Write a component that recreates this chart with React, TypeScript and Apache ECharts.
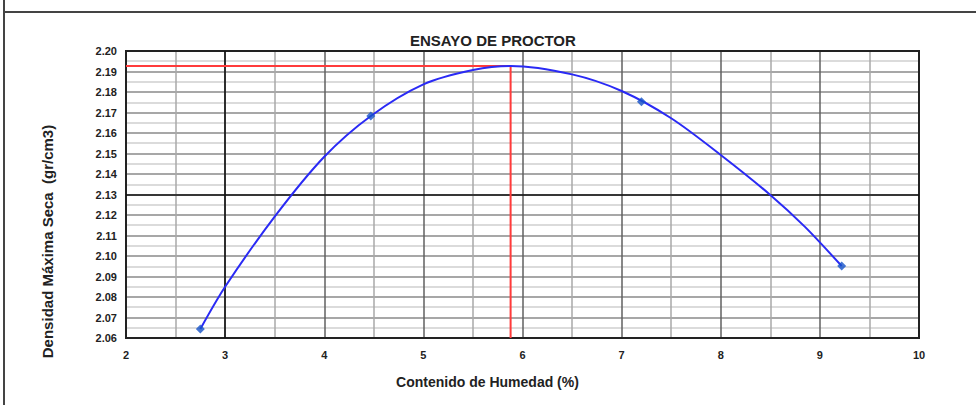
import React, { useEffect, useRef } from "react";
import * as echarts from "echarts";

const title = "ENSAYO DE PROCTOR";
const xAxisTitle = "Contenido de Humedad (%)";
const yAxisTitle = "Densidad Máxima Seca  (gr/cm3)";

// measured points (humidity %, dry density)
const sampleX = [2.75, 4.47, 7.2, 9.22];
const sampleY = [2.0644, 2.1683, 2.1753, 2.0951];

// trend curve
const curveX = [2.75, 3.0, 3.5, 4.0, 4.47, 5.0, 5.5, 5.88, 6.5, 7.0, 7.5, 8.0, 8.5, 8.85, 9.22];
const curveY = [2.0644, 2.085, 2.1192, 2.1484, 2.1683, 2.1837, 2.1907, 2.1927, 2.1886, 2.1805, 2.1672, 2.1493, 2.1298, 2.1142, 2.0951];

// optimum (max dry density)
const optimumX = 5.88;
const optimumY = 2.1927;

const xMin = 2, xMax = 10, xStep = 1;
const yMin = 2.06, yMax = 2.2, yStep = 0.01;
const darkGridX = [3];
const darkGridY = [2.13];

export default function App() {
  const ref = useRef<HTMLDivElement>(null);
  useEffect(() => {
    if (!ref.current) return;
    const chart = echarts.init(ref.current, null, { renderer: "svg" });
    const font = "'Liberation Sans', Arial, sans-serif";
    const markData: any[] = [];
    darkGridX.forEach((v) => markData.push({ xAxis: v }));
    darkGridY.forEach((v) => markData.push({ yAxis: v }));
    chart.setOption({
      animation: false,
      backgroundColor: "#ffffff",
      textStyle: { fontFamily: font },
      title: {
        text: title,
        left: 405,
        top: 28,
        textStyle: { fontSize: 15, fontWeight: "bold", color: "#222", fontFamily: font },
      },
      graphic: [
        { type: "line", shape: { x1: 4, y1: 0, x2: 4, y2: 405 }, style: { stroke: "#444", lineWidth: 2 } },
        { type: "line", shape: { x1: 4, y1: 12, x2: 976, y2: 12 }, style: { stroke: "#444", lineWidth: 2 } },
      ],
      grid: {
        left: 126,
        right: 57,
        top: 51,
        bottom: 67,
        show: true,
        borderColor: "#222",
        borderWidth: 2,
        z: 5,
      },
      xAxis: {
        type: "value",
        min: xMin,
        max: xMax,
        interval: xStep,
        name: xAxisTitle,
        nameLocation: "middle",
        nameGap: 37,
        nameTextStyle: { fontSize: 14, fontWeight: "bold", color: "#222", fontFamily: font, padding: [0, 70, 0, 0] },
        axisLine: { show: true, lineStyle: { color: "#222", width: 2 } },
        axisTick: { show: false },
        axisLabel: { fontSize: 11, fontWeight: "bold", color: "#222", margin: 11, fontFamily: font },
        splitLine: { show: true, lineStyle: { color: "#606060", width: 1.5 } },
        minorTick: { show: false, splitNumber: 2 },
        minorSplitLine: { show: true, lineStyle: { color: "#a8a8a8", width: 1.5 } },
      },
      yAxis: {
        type: "value",
        min: yMin,
        max: yMax,
        interval: yStep,
        name: yAxisTitle,
        nameLocation: "middle",
        nameGap: 71,
        nameTextStyle: { fontSize: 15, fontWeight: "bold", color: "#222", fontFamily: font, padding: [0, 94, 0, 0] },
        axisLine: { show: true, lineStyle: { color: "#222", width: 2 } },
        axisTick: { show: false },
        axisLabel: {
          fontSize: 11,
          fontWeight: "bold",
          color: "#222",
          margin: 9,
          fontFamily: font,
          formatter: (v: number) => v.toFixed(2),
        },
        splitLine: { show: true, lineStyle: { color: "#8a8a8a", width: 1.5 } },
        minorTick: { show: false, splitNumber: 2 },
        minorSplitLine: { show: true, lineStyle: { color: "#cfcfcf", width: 1.5 } },
      },
      series: [
        {
          type: "line",
          name: "grid",
          data: [],
          silent: true,
          markLine: {
            symbol: "none",
            silent: true,
            label: { show: false },
            lineStyle: { color: "#111", width: 1.5, type: "solid" },
            data: markData,
          },
        },
        {
          type: "line",
          name: "optimo",
          data: [
            [xMin, optimumY],
            [optimumX, optimumY],
            [optimumX, yMin],
          ],
          symbol: "none",
          lineStyle: { color: "#ff3b3b", width: 2 },
          z: 6,
        },
        {
          type: "line",
          name: "curva",
          data: curveX.map((x, i) => [x, curveY[i]]),
          smooth: 0.3,
          symbol: "none",
          lineStyle: { color: "#2a2af5", width: 2 },
          z: 7,
        },
        {
          type: "scatter",
          name: "puntos",
          data: sampleX.map((x, i) => [x, sampleY[i]]),
          symbol: "diamond",
          symbolSize: 9,
          itemStyle: { color: "#1552c8" },
          z: 8,
        },
      ],
    });
    return () => chart.dispose();
  }, []);
  return (
    <div
      ref={ref}
      style={{ position: "fixed", left: 0, top: 0, width: 976, height: 405, background: "#fff" }}
    />
  );
}
